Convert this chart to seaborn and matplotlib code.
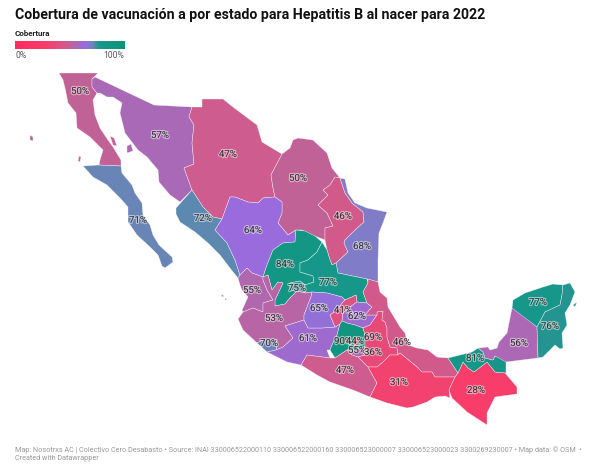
import numpy as np
import matplotlib
matplotlib.use("Agg")
import matplotlib.pyplot as plt
import matplotlib.patheffects as pe
from matplotlib.colors import LinearSegmentedColormap, Normalize
import seaborn as sns

title = "Cobertura de vacunación a por estado para Hepatitis B al nacer para 2022"
legend_title = "Cobertura"
footer = ("Map: Nosotrxs AC | Colectivo Cero Desabasto • Source: INAI 330006522000110 330006522000160 "
          "330006523000007 330006523000023 3300269230007 • Map data: © OSM  •\nCreated with Datawrapper")

states = ["BC", "Son", "Chih", "Coah", "NL", "Tamps", "BCS", "Sin", "Dgo", "Zac", "Ags", "SLP",
          "Nay", "Jal", "Col", "Mich", "Gto", "Qro", "Hgo", "Mex", "CDMX", "Mor", "Tlax", "Pue",
          "Ver", "Gro", "Oax", "Chis", "Tab", "Camp", "Yuc", "QRoo"]
coverage = [50, 57, 47, 50, 46, 68, 71, 72, 64, 84, 75, 77,
            55, 53, 70, 61, 65, 41, 62, 90, 44, 55, 69, 36,
            46, 47, 31, 28, 81, 56, 77, 76]
label_x = [80, 160, 228, 298, 343, 362, 138, 203, 253, 285, 297, 328,
           252, 274, 269, 308, 319, 343, 357, 343, 355, 357, 373, 373,
           402, 345, 399, 476, 475, 519, 538, 550]
label_y = [91, 135, 154, 178, 216, 246, 220, 218, 230, 264, 288, 282,
           290, 318, 343, 338, 308, 310, 316, 341, 341, 350, 337, 352,
           342, 370, 382, 390, 358, 343, 302, 326]

# state outlines, in image pixels
outlines = {
    "BC": [(59,73),(98,73),(92,79),(92,87),(97,93),(93,100),(95,115),(100,128),(108,140),(113,147),(121,160),(121,166),(99,165),(100,160),(103,150),(90,137),(77,128),(76,113),(68,103),(65,88),(63,80)],
    "Son": [(92,79),(95,77),(154,105),(192,107),(189,117),(194,125),(192,143),(194,164),(184,168),(192,190),(180,202),(170,195),(159,182),(158,170),(147,157),(138,150),(125,133),(120,113),(122,103),(113,97),(107,97),(100,93),(97,93),(92,87)],
    "Chih": [(202,99),(223,99),(233,107),(257,125),(262,142),(282,154),(271,175),(273,188),(275,197),(263,198),(258,203),(248,202),(235,197),(230,197),(222,219),(213,217),(203,207),(192,190),(184,168),(194,164),(192,143),(194,125),(189,117),(192,107),(202,107)],
    "Coah": [(282,154),(290,148),(293,140),(298,138),(313,140),(327,153),(332,168),(340,178),(335,177),(330,185),(323,190),(328,195),(318,205),(327,213),(333,226),(325,228),(325,240),(312,235),(302,230),(296,230),(288,235),(278,223),(282,213),(282,202),(275,197),(273,188),(271,175)],
    "NL": [(335,177),(340,178),(345,193),(352,203),(363,212),(364,222),(353,232),(345,240),(344,243),(348,252),(336,263),(332,265),(330,260),(327,250),(325,240),(325,228),(333,226),(327,213),(318,205),(328,195),(323,190),(330,185)],
    "Tamps": [(340,178),(345,179),(348,193),(355,203),(367,208),(387,212),(383,223),(379,233),(378,260),(378,282),(367,279),(338,273),(336,263),(348,252),(344,243),(345,240),(353,232),(364,222),(363,212),(352,203),(345,193)],
    "BCS": [(83,166),(98,165),(121,166),(122,173),(132,185),(135,193),(142,203),(143,215),(150,225),(153,235),(159,245),(172,257),(173,262),(165,268),(162,266),(158,255),(150,247),(137,235),(128,222),(128,207),(120,198),(107,185),(93,177)],
    "Sin": [(176,208),(192,190),(203,207),(213,217),(222,219),(215,230),(227,243),(235,260),(240,275),(238,278),(233,272),(220,255),(208,243),(195,232),(180,222),(176,214)],
    "Dgo": [(230,197),(235,197),(248,202),(258,203),(263,198),(275,197),(282,202),(282,213),(278,223),(288,235),(296,230),(295,242),(283,243),(273,250),(267,265),(263,277),(252,273),(247,268),(240,275),(235,260),(227,243),(215,230),(222,219)],
    "Zac": [(296,230),(305,231),(315,236),(322,242),(317,252),(308,260),(300,263),(300,272),(313,276),(314,282),(305,285),(300,281),(290,283),(290,290),(297,291),(290,298),(285,304),(275,306),(275,300),(283,283),(278,282),(272,290),(268,275),(263,277),(267,265),(273,250),(283,243),(295,242)],
    "Ags": [(290,283),(300,281),(305,285),(305,293),(297,291),(290,290)],
    "SLP": [(322,242),(327,250),(330,260),(332,265),(336,263),(338,273),(367,279),(368,283),(363,292),(367,303),(357,302),(356,295),(352,297),(345,300),(342,297),(327,293),(312,292),(305,293),(305,285),(314,282),(313,276),(300,272),(300,263),(308,260),(317,252)],
    "Nay": [(240,275),(247,268),(252,273),(263,277),(263,280),(267,290),(273,300),(263,303),(263,312),(253,308),(243,312),(242,310),(248,297),(242,290),(240,285),(238,278)],
    "Jal": [(268,275),(272,290),(278,282),(283,283),(275,300),(275,306),(285,304),(290,298),(297,291),(305,293),(312,292),(311,297),(304,315),(304,320),(285,326),(293,338),(283,347),(276,350),(277,340),(263,340),(257,343),(243,330),(238,319),(243,312),(253,308),(263,312),(263,303),(273,300),(267,290),(263,280),(263,277)],
    "Col": [(257,343),(263,340),(277,340),(276,350),(267,352)],
    "Mich": [(285,326),(304,320),(308,328),(322,328),(335,327),(340,324),(337,335),(332,345),(330,350),(327,350),(330,358),(307,355),(301,365),(287,362),(277,357),(267,352),(276,350),(283,347),(293,338)],
    "Gto": [(312,292),(327,293),(342,297),(345,300),(343,302),(337,310),(330,315),(335,327),(322,328),(308,328),(304,320),(304,315),(311,297)],
    "Qro": [(345,300),(352,297),(356,295),(357,302),(350,307),(343,313),(342,321),(340,324),(335,327),(330,315),(337,310),(343,302)],
    "Hgo": [(357,302),(367,303),(372,307),(365,315),(377,315),(370,325),(363,328),(355,325),(347,323),(342,321),(343,313),(350,307)],
    "Mex": [(342,321),(347,323),(355,325),(363,328),(365,335),(365,347),(353,350),(347,350),(335,358),(330,350),(332,345),(337,335),(340,324)],
    "CDMX": [(353,337),(359,338),(360,345),(354,346)],
    "Mor": [(347,350),(353,350),(365,347),(365,355),(358,357),(352,355)],
    "Tlax": [(367,335),(377,333),(378,340),(372,342)],
    "Pue": [(377,312),(383,311),(382,320),(385,322),(387,328),(387,337),(390,347),(397,348),(398,355),(390,355),(383,362),(377,367),(368,367),(358,357),(365,355),(365,335),(363,328),(370,325),(377,315)],
    "Ver": [(368,279),(378,282),(380,292),(387,298),(388,307),(400,327),(405,333),(408,345),(417,348),(428,350),(437,357),(448,358),(458,373),(455,377),(435,377),(432,372),(422,372),(417,367),(400,353),(398,355),(397,348),(390,347),(387,337),(387,328),(385,322),(382,320),(383,311),(377,312),(377,315),(365,315),(372,307),(367,303),(363,292),(368,283)],
    "Gro": [(301,365),(307,355),(330,358),(335,358),(347,350),(352,355),(358,357),(368,367),(377,383),(370,397),(353,390),(330,382),(317,375)],
    "Oax": [(400,353),(417,367),(422,372),(432,372),(435,377),(455,377),(449,390),(450,398),(445,396),(435,397),(427,402),(413,407),(407,408),(387,403),(370,397),(377,383),(368,367),(377,367),(383,362),(390,355),(398,355)],
    "Chis": [(455,377),(458,373),(463,362),(468,368),(474,372),(487,362),(495,372),(505,373),(517,387),(517,394),(495,397),(487,413),(487,425),(467,412),(452,398),(449,390)],
    "Tab": [(448,358),(472,352),(478,348),(483,352),(485,358),(493,360),(495,356),(506,360),(506,373),(495,372),(487,362),(474,372),(468,368),(463,362),(458,373)],
    "Camp": [(512,308),(520,312),(537,327),(538,358),(506,362),(495,356),(493,360),(485,358),(483,352),(478,348),(488,347),(490,350),(497,348),(499,342),(507,333)],
    "Yuc": [(512,308),(513,300),(525,293),(543,287),(553,284),(563,285),(562,295),(560,305),(545,312),(537,327)],
    "QRoo": [(563,285),(570,283),(575,292),(570,305),(565,313),(567,325),(562,333),(563,348),(560,349),(555,345),(543,357),(538,358),(537,327),(545,312),(560,305),(562,295)],
}
islands = {
    "BC": [[(30,135),(33,137),(33,141),(30,140)], [(110,136),(114,138),(117,146),(113,145)], [(79,156),(81,157),(80,162),(78,161)]],
    "Son": [[(127,146),(131,144),(133,151),(127,153)]],
    "Nay": [[(221,294),(224,296),(222,297)], [(225,298),(227,300),(225,300)]],
    "QRoo": [[(573,305),(577,302),(575,307)]],
}

ramp_stops = [(0.0, "#ff2a5e"), (0.28, "#f83d6a"), (0.46, "#d25a8b"), (0.5, "#c26296"),
              (0.57, "#a969b8"), (0.64, "#996bdd"), (0.68, "#837bc9"), (0.72, "#5f88b0"),
              (0.77, "#17978a"), (1.0, "#0c9479")]

sns.set_theme(style="white")
plt.rcParams['font.family'] = ['Roboto', 'DejaVu Sans']

cmap = LinearSegmentedColormap.from_list("cobertura", ramp_stops)
norm = Normalize(0, 100)

fig = plt.figure(figsize=(6.0, 4.69), dpi=100)
ax = fig.add_axes([0, 0, 1, 1])
ax.set_xlim(0, 600)
ax.set_ylim(469, 0)
ax.axis("off")

for state, value in zip(states, coverage):
    color = cmap(norm(value))
    for shape in [outlines[state]] + islands.get(state, []):
        ax.fill(*zip(*shape), facecolor=color, edgecolor=(1, 1, 1, 0.7), linewidth=0.35, joinstyle="round")

halo = [pe.withStroke(linewidth=1.6, foreground=(1, 1, 1, 0.5))]
for value, x, y in zip(coverage, label_x, label_y):
    ax.text(x, y, f"{value}%", ha="center", va="center", fontsize=7, color="#333333", path_effects=halo)

ax.text(15, 15, title, fontsize=10.15, fontweight="bold", color="#111111", ha="left", va="center")
ax.text(15, 34, legend_title, fontsize=5.8, fontweight="bold", color="#222222", ha="left", va="center")
ax.text(15, 55, "0%", fontsize=6.2, color="#555555", ha="left", va="center")
ax.text(124.5, 55, "100%", fontsize=6.2, color="#555555", ha="right", va="center")
ax.text(15, 454, footer, fontsize=5.2, color="#999999", ha="left", va="center", linespacing=1.25)

ax_ramp = fig.add_axes([15 / 600, 1 - 49 / 469, 110 / 600, 7.5 / 469])
sns.heatmap(np.linspace(0, 100, 220).reshape(1, -1), cmap=cmap, vmin=0, vmax=100, cbar=False,
            xticklabels=False, yticklabels=False, ax=ax_ramp)

fig.savefig("out.png", dpi=100)
plt.close(fig)
